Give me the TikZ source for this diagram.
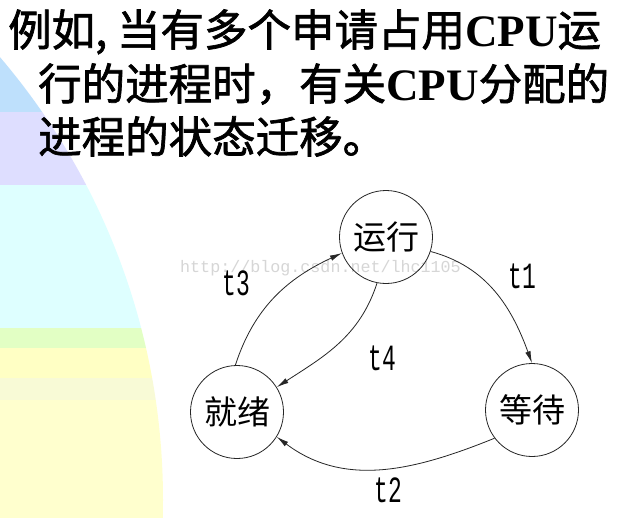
\documentclass[tikz,border=0pt]{standalone}
\usepackage{fontspec}
\usetikzlibrary{arrows.meta}
\newfontfamily\cjk{Noto Sans CJK SC}
\newfontfamily\cjkmed{Noto Sans CJK SC}[FakeBold=1.6]
\newfontfamily\tms{Liberation Serif}
\newfontfamily\mono{Liberation Mono}
\definecolor{bandblue}{RGB}{190,224,252}
\definecolor{bandlav}{RGB}{222,222,255}
\definecolor{bandcyan}{RGB}{222,255,255}
\definecolor{bandgreen}{RGB}{226,255,196}
\definecolor{bandyel}{RGB}{255,255,196}
\definecolor{bandpale}{RGB}{248,250,214}
\definecolor{bandcream}{RGB}{255,255,206}
\definecolor{wm}{RGB}{214,214,214}
\tikzset{
  state/.style={circle, draw=black!85, line width=0.8pt, minimum size=93pt, inner sep=0pt,
    font=\cjk\fontsize{33}{36}\selectfont},
  conn/.style={draw=black!85, line width=0.8pt, -{Latex[length=12pt,width=5.5pt]}},
  tlabel/.style={inner sep=0pt, font=\mono\fontsize{37}{40}\selectfont},
  titleline/.style={anchor=base west, inner sep=0pt, font=\cjkmed\fontsize{43.5}{50}\selectfont}
}
\newcommand{\narrow}[1]{\scalebox{0.62}[1]{#1}}
\newcommand{\cpu}{{\tms\bfseries\fontsize{45}{50}\selectfont CPU}}
\begin{document}
\begin{tikzpicture}[x=1pt,y=-1pt]
\useasboundingbox (0,0) rectangle (623,517);
\fill[white] (0,0) rectangle (623,517);
% coloured disc on the left
\begin{scope}
\clip (-520,500) circle (683pt);
\fill[bandblue]  (-10,-10) rectangle (300,112);
\fill[bandlav]   (-10,112) rectangle (300,185);
\fill[bandcyan]  (-10,185) rectangle (300,328);
\fill[bandgreen] (-10,328) rectangle (300,348);
\fill[bandyel]   (-10,348) rectangle (300,378);
\fill[bandpale]  (-10,378) rectangle (300,400);
\fill[bandcream] (-10,400) rectangle (300,530);
\end{scope}
% title
\node[titleline] (l1) at (8,46) {例如, 当有多个申请占用\cpu 运};
\node[titleline] (l2) at (38,100) {行的进程时，有关\cpu 分配的};
\node[titleline] (l3) at (38,153) {进程的状态迁移。};
% watermark
\node[anchor=west, inner sep=0pt, text=wm, font=\mono\fontsize{16.7}{18}\selectfont] (wm) at (180,268) {http://blog.csdn.net/lhc1105};
% states
\node[state] (run) at (386,237) {运行};
\node[state] (ready) at (237,412) {就绪};
\node[state] (wait) at (532,410) {等待};
% transitions
\draw[conn] (run.-18) to[out=-15, in=110] (wait.90);
\draw[conn] (wait.-143) to[out=202, in=-37] (ready.-32);
\draw[conn] (ready.92) to[out=72, in=205] (run.-160);
\draw[conn] (run.259) to[out=252, in=33] (ready.32);
% labels
\node[tlabel] (t1) at (522,276) {\narrow{t1}};
\node[tlabel] (t2) at (388,490) {\narrow{t2}};
\node[tlabel] (t3) at (236,283) {\narrow{t3}};
\node[tlabel] (t4) at (382,358) {\narrow{t4}};
\end{tikzpicture}
\end{document}
